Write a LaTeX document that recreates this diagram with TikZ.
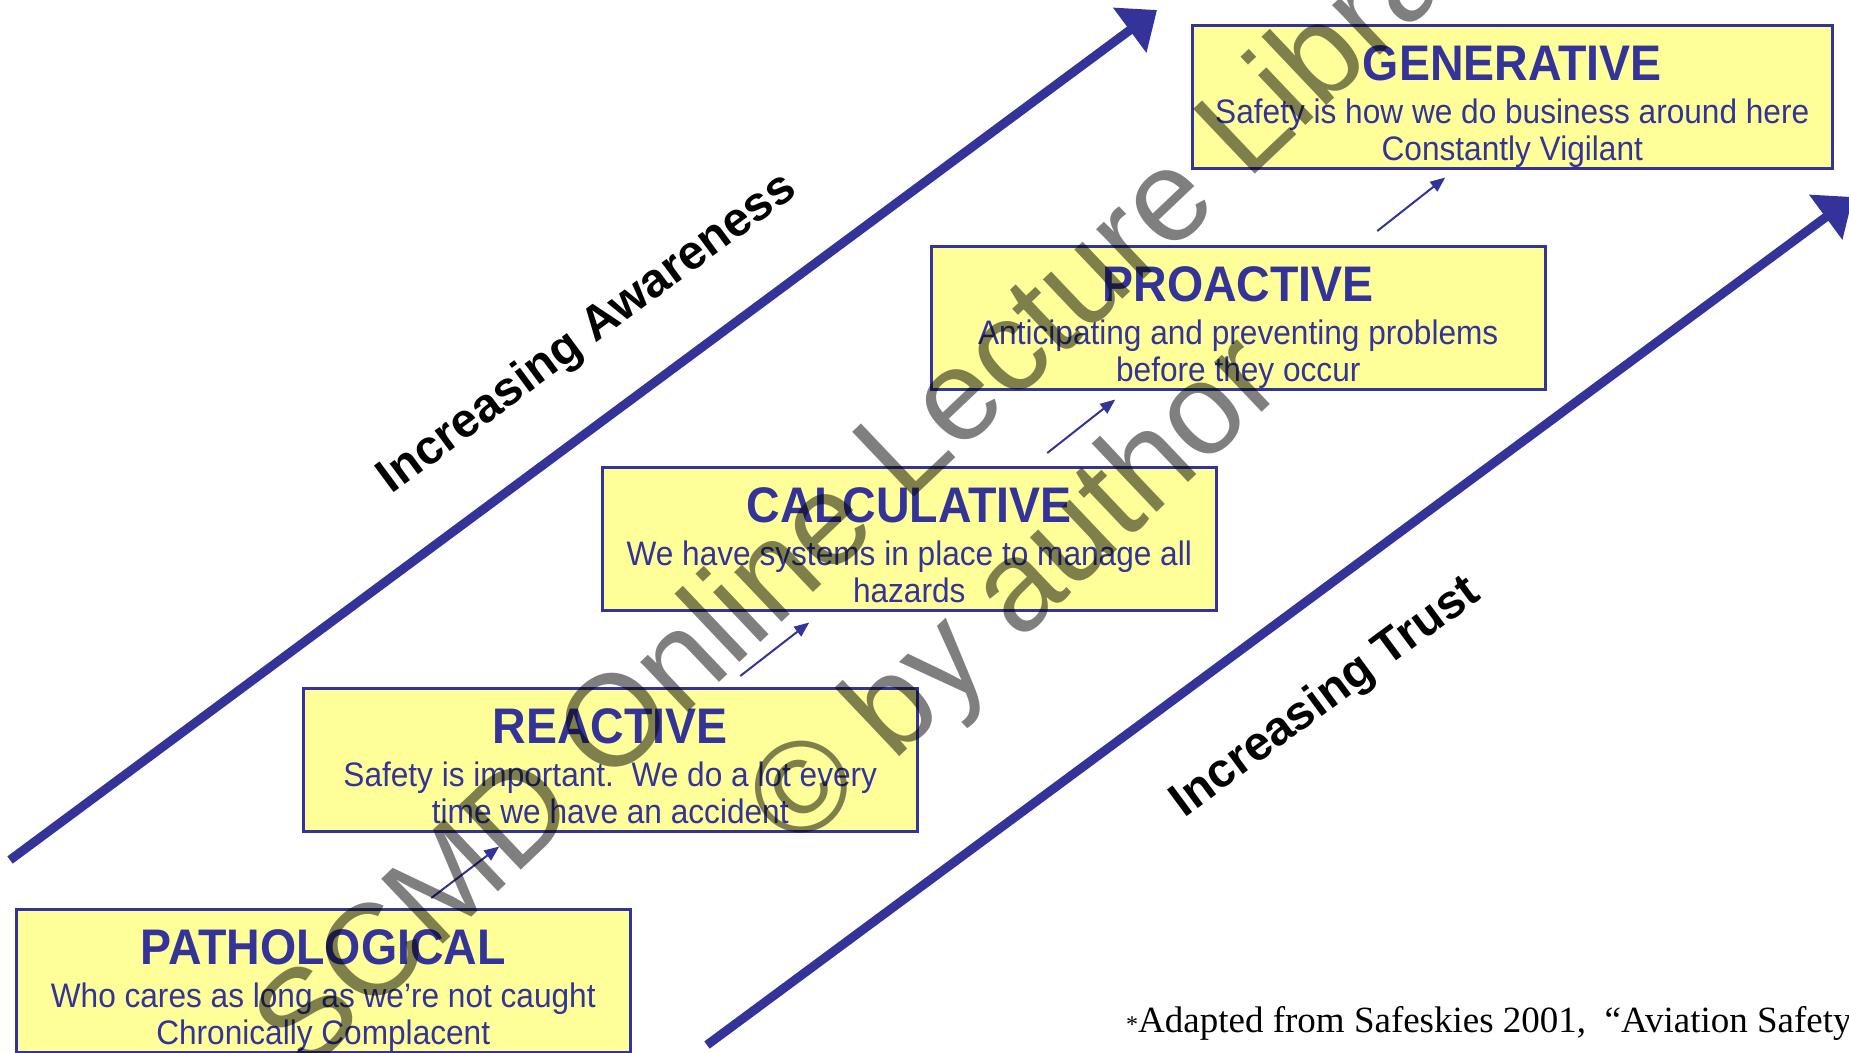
\documentclass[tikz,border=0pt]{standalone}
\usepackage{fontspec}
\setmainfont{Liberation Sans}
\newfontfamily\stagefont[FakeStretch=0.93]{Liberation Sans}
\newfontfamily\footserif{Liberation Serif}
\usetikzlibrary{arrows.meta, positioning}
\definecolor{stageblue}{HTML}{333399}
\definecolor{stagefill}{HTML}{FFFF99}

\begin{document}
\begin{tikzpicture}[x=1pt, y=-1pt,
    stage/.style={draw=stageblue, fill=stagefill, line width=2.5pt, minimum width=614pt,
      minimum height=143pt, anchor=north west, inner sep=0pt},
    stagetitle/.style={text=stageblue, font=\stagefont\fontsize{50}{52}\selectfont\bfseries, anchor=base, inner sep=0pt},
    stagetext/.style={text=stageblue, font=\stagefont\fontsize{34}{37}\selectfont, align=center, anchor=north, inner sep=0pt},
    bigarrow/.style={stageblue, line width=9pt, -{Triangle[length=34pt,width=54pt]}},
    steparrow/.style={stageblue, line width=2pt, -{Triangle[length=15pt,width=12pt]}},
    trend/.style={font=\fontsize{48}{50}\selectfont\bfseries, rotate=36.5},
    watermark/.style={text=black, text opacity=0.5, font=\fontsize{130}{178}\selectfont, align=center, rotate=43.5}]
  \useasboundingbox (0,0) rectangle (1849,1052);
  \clip (0,0) rectangle (1849,1052);

  % the five stages
  \node[stage] (patho) at (15,908) {};
  \node[stage] (react) at (302,687) {};
  \node[stage] (calc) at (601,466) {};
  \node[stage] (proact) at (930,245) {};
  \node[stage, minimum width=640pt] (gener) at (1191,24) {};

  \node[stagetitle] (patho-t) at ([yshift=-56pt]patho.north) {PATHOLOGICAL};
  \node[stagetext] (patho-b) at ([yshift=-73pt]patho.north) {\strut Who cares as long as we’re not caught\\Chronically Complacent};
  \node[stagetitle] (react-t) at ([yshift=-56pt]react.north) {REACTIVE};
  \node[stagetext] (react-b) at ([yshift=-73pt]react.north) {\strut Safety is important.\ \ We do a lot every\\time we have an accident};
  \node[stagetitle] (calc-t) at ([yshift=-56pt]calc.north) {CALCULATIVE};
  \node[stagetext] (calc-b) at ([yshift=-73pt]calc.north) {\strut We have systems in place to manage all\\hazards};
  \node[stagetitle] (proact-t) at ([yshift=-56pt]proact.north) {PROACTIVE};
  \node[stagetext] (proact-b) at ([yshift=-73pt]proact.north) {\strut Anticipating and preventing problems\\before they occur};
  \node[stagetitle] (gener-t) at ([yshift=-56pt]gener.north) {GENERATIVE};
  \node[stagetext] (gener-b) at ([yshift=-73pt]gener.north) {\strut Safety is how we do business around here\\Constantly Vigilant};

  % small steps between stages
  \draw[steparrow] ([xshift=108pt,yshift=10pt]patho.north) -- ([xshift=-111pt,yshift=-14pt]react.south);
  \draw[steparrow] ([xshift=130pt,yshift=11pt]react.north) -- ([xshift=-100pt,yshift=-11pt]calc.south);
  \draw[steparrow] ([xshift=138pt,yshift=13pt]calc.north) -- ([xshift=-123pt,yshift=-9pt]proact.south);
  \draw[steparrow] ([xshift=139pt,yshift=14pt]proact.north) -- ([xshift=-67pt,yshift=-8pt]gener.south);

  % the two long arrows
  \coordinate (aware-s) at (10,860);
  \coordinate (aware-e) at (1157,10);
  \coordinate (trust-s) at (707,1045);
  \coordinate (trust-e) at (1853,197);
  \draw[bigarrow] (aware-s) -- (aware-e);
  \draw[bigarrow] (trust-s) -- (trust-e);
  \node[trend] (aware) at (588,334) {Increasing Awareness};
  \node[trend] (trust) at (1326,698) {Increasing Trust};

  \node[anchor=base west, inner sep=0pt, font=\footserif\fontsize{37}{40}\selectfont] (source) at (1126,1032)
    {{\fontsize{24}{24}\selectfont *}Adapted from Safeskies 2001,\ \ “Aviation Safety};

  \node[watermark] (wm) at (958,532) {SCMD Online Lecture Library\\© by author};
\end{tikzpicture}
\end{document}
